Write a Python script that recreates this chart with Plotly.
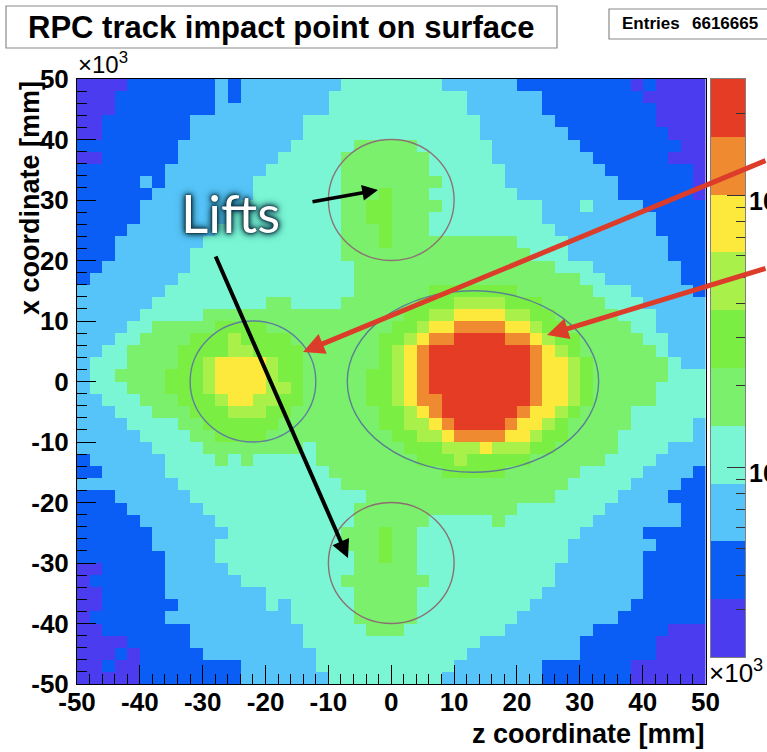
import math
import plotly.graph_objects as go

W, H = 767, 752

# 2D histogram binning (units of 10^3 mm), 50 x 50 bins
BIN_EDGES = list(range(-50, 51, 2))

# colour-level boundaries of the log-z palette (entries per bin)
LEVEL_COUNTS = [200, 326, 533, 869, 1419, 2315, 3778, 6166, 10062, 16421, 26792]
LEVEL_COLORS = ["#4b3cf0", "#0a5ef5", "#56c4f8", "#7af6d4", "#7bf06d",
                "#7bee44", "#a9f04a", "#fde83c", "#ef8a31", "#e53c26"]

# contour level of every bin, one row per x bin from +50 (top) to -50 (bottom);
# each token is "level:number_of_consecutive_z_bins", z running from -50 to +50
ROWS = [
    "0:4 1:7 2:1 1:1 2:8 3:8 2:6 1:9 0:1 1:1 0:4",
    "0:3 1:8 2:1 1:1 2:7 3:11 2:6 1:8 0:5",
    "0:3 1:8 2:9 3:11 2:6 1:9 0:4",
    "0:2 1:7 2:9 3:14 2:6 1:8 0:4",
    "0:2 1:7 2:9 3:14 2:7 1:8 0:3",
    "1:8 2:9 3:5 4:5 3:6 2:7 1:8 0:2",
    "0:2 1:6 2:8 3:5 4:7 3:5 2:8 1:6 0:3",
    "1:7 2:8 3:6 4:7 3:6 2:8 1:7 0:1",
    "1:5 2:1 1:1 2:7 3:7 4:8 3:5 2:9 1:6 0:1",
    "1:6 2:8 3:7 4:3 5:1 4:3 3:7 2:8 1:6 0:1",
    "1:5 2:8 3:8 4:2 5:2 4:4 3:8 2:3 3:1 2:4 1:5",
    "1:5 2:7 3:9 4:2 5:2 4:3 3:9 2:9 1:4",
    "1:4 2:7 3:10 4:3 5:1 4:3 3:10 2:8 1:4",
    "1:3 2:7 3:11 4:3 5:1 4:10 3:4 2:8 1:3",
    "1:3 2:6 3:12 4:15 3:3 2:8 1:3",
    "1:2 2:7 3:13 4:16 3:3 2:7 1:2",
    "1:1 2:7 3:14 4:18 3:2 2:6 1:2",
    "2:7 3:15 4:6 5:7 4:6 3:3 2:5 1:1",
    "2:6 3:9 4:2 3:4 4:6 5:3 6:4 5:3 4:5 3:3 2:5",
    "2:5 3:5 4:16 5:2 6:2 7:4 6:2 5:2 4:5 3:3 2:4",
    "2:4 3:2 4:5 5:4 4:10 5:2 6:1 7:2 8:4 7:2 6:1 5:2 4:5 3:2 2:4",
    "2:3 3:2 4:4 5:3 6:1 5:4 4:7 5:2 6:1 7:1 8:2 9:4 8:2 7:1 6:1 5:2 4:5 3:2 2:3",
    "2:2 3:2 4:4 5:4 6:2 5:4 4:6 5:1 6:1 7:1 8:1 9:8 8:1 7:1 6:1 5:1 4:6 3:1 2:3",
    "2:1 3:3 4:4 5:2 6:1 7:4 6:1 5:2 4:6 5:1 6:1 7:1 8:1 9:8 8:1 7:2 6:1 5:1 4:6 3:1 2:2",
    "2:1 3:2 4:4 5:3 6:1 7:4 6:1 5:2 4:5 5:2 6:1 7:1 8:1 9:8 8:1 7:2 6:1 5:1 4:6 3:3",
    "2:1 3:3 4:3 5:3 6:1 7:4 6:2 5:1 4:5 5:2 6:1 7:1 8:1 9:8 8:1 7:2 6:1 5:1 4:5 3:4",
    "2:2 3:3 4:3 5:3 6:1 7:2 6:2 5:2 4:5 5:2 6:1 7:1 8:2 9:7 8:1 7:2 6:1 5:1 4:5 3:4",
    "2:3 3:3 4:3 5:3 6:3 5:2 4:7 5:2 6:1 7:1 8:1 9:6 8:1 7:2 6:1 5:1 4:4 3:6",
    "2:4 3:4 4:2 5:6 4:8 5:2 6:2 7:1 8:1 9:4 8:1 7:2 6:1 5:1 4:5 3:5 2:1",
    "2:5 3:4 4:2 5:4 4:10 5:2 6:2 7:1 8:4 7:2 6:1 5:2 4:4 3:6 2:1",
    "2:6 3:4 4:8 3:1 4:7 5:3 6:3 7:1 6:3 5:2 4:5 3:4 2:3",
    "1:1 2:6 3:4 4:1 3:1 4:1 3:5 4:8 5:3 6:1 5:5 4:6 3:4 2:4",
    "1:2 2:5 3:13 4:9 5:5 4:6 3:5 2:4 1:1",
    "2:8 3:13 4:18 3:5 2:4 1:2",
    "1:3 2:6 3:14 4:15 3:5 2:4 1:3",
    "1:4 2:6 3:12 4:13 3:7 2:6 1:2",
    "1:5 2:6 3:11 4:6 3:5 4:1 3:7 2:7 1:2",
    "1:6 2:6 3:9 4:3 5:1 4:2 3:13 2:5 1:5",
    "1:6 2:5 3:10 4:3 5:1 4:2 3:12 2:7 1:4",
    "1:7 2:4 3:11 4:2 5:1 4:2 3:12 2:6 1:5",
    "0:2 1:5 2:5 3:10 4:5 3:11 2:7 1:5",
    "0:1 1:6 2:6 3:8 4:7 3:10 2:7 1:5",
    "0:2 1:5 2:8 3:7 4:5 3:10 2:8 1:5",
    "0:2 1:6 2:7 3:1 2:1 3:5 4:5 3:9 2:8 1:6",
    "0:1 1:6 2:10 3:5 4:5 3:8 2:8 1:7",
    "0:2 1:7 2:9 3:5 4:3 3:8 2:7 1:6 0:3",
    "0:4 1:5 2:9 3:14 2:8 1:6 0:4",
    "0:3 1:1 0:1 1:5 2:9 3:12 2:9 1:6 0:4",
    "0:2 1:1 0:2 1:8 2:6 3:11 2:7 1:7 0:6",
    "0:5 1:8 2:7 3:9 2:8 1:7 0:6",
]

# highlighted regions: (centre z, centre x, half-width z, half-height x, line colour)
REGIONS = [
    (0.0, 30.0, 10.0, 10.0, "#8c7474"),
    (0.0, -30.0, 10.0, 10.0, "#8c7070"),
    (-22.0, 0.0, 10.0, 10.0, "#5f7f9e"),
    (13.0, 0.0, 20.0, 15.0, "#5b8092"),
]

# labelled decades on the colour scale
Z_DECADES = [3, 4]

TITLE = "RPC track impact point on surface"
ENTRIES = "6616665"


def expand(row):
    cells = []
    for tok in row.split():
        lvl, n = tok.split(":")
        cells += [int(lvl)] * int(n)
    assert len(cells) == 50, (row, len(cells))
    return cells


grid = [expand(r) for r in ROWS][::-1]   # bottom row first for the y axis

n_lv = len(LEVEL_COLORS)
colorscale = []
for k, c in enumerate(LEVEL_COLORS):
    colorscale.append([k / n_lv, c])
    colorscale.append([(k + 1) / n_lv, c])

log_edges = [math.log10(v) for v in LEVEL_COUNTS]


def fx(px):
    return px / W


def fy(py):
    return 1 - py / H


# plot frame in page pixels
L, R, T, B = 77, 705.5, 79, 684
CB_L, CB_R, CB_T, CB_B = 710.5, 745, 79, 657

FONT = "Liberation Sans"

fig = go.Figure()
fig.add_trace(go.Heatmap(
    x=BIN_EDGES, y=BIN_EDGES, z=grid,
    colorscale=colorscale, zmin=-0.5, zmax=n_lv - 0.5,
    showscale=False, hoverinfo="skip",
))
fig.add_trace(go.Heatmap(
    x=[0, 1], y=log_edges, z=[[k] for k in range(n_lv)],
    colorscale=colorscale, zmin=-0.5, zmax=n_lv - 0.5,
    showscale=False, hoverinfo="skip", xaxis="x2", yaxis="y2",
))

tickfont = dict(family=FONT, size=26, color="black", weight="bold")
major = list(range(-50, 51, 10))

minor_log = [math.log10(m * 10 ** e) for e in (2, 3, 4) for m in range(2, 10)
             if log_edges[0] <= math.log10(m * 10 ** e) <= log_edges[-1]]

fig.update_layout(
    width=W, height=H,
    margin=dict(l=0, r=0, t=0, b=0),
    paper_bgcolor="white", plot_bgcolor="white",
    showlegend=False,
    xaxis=dict(
        domain=[fx(L), fx(R)], range=[-50, 50], anchor="y",
        tickmode="array", tickvals=major, ticktext=[str(v) for v in major],
        ticks="inside", ticklen=19, tickcolor="black", tickwidth=1,
        minor=dict(dtick=2, tick0=-50, ticks="inside", ticklen=10, tickcolor="black"),
        showline=True, mirror=True, linecolor="black", linewidth=1,
        showgrid=False, zeroline=False, tickfont=tickfont,
        ticklabelstandoff=-5, automargin=False,
    ),
    yaxis=dict(
        domain=[fy(B), fy(T)], range=[-50, 50], anchor="x",
        tickmode="array", tickvals=major, ticktext=[str(v) for v in major],
        ticks="inside", ticklen=19, tickcolor="black", tickwidth=1,
        minor=dict(dtick=2, tick0=-50, ticks="inside", ticklen=10, tickcolor="black"),
        showline=True, mirror=True, linecolor="black", linewidth=1,
        showgrid=False, zeroline=False, tickfont=tickfont,
        ticklabelstandoff=2, automargin=False,
    ),
    xaxis2=dict(
        domain=[fx(CB_L), fx(CB_R)], range=[0, 1], anchor="y2",
        showticklabels=False, ticks="", showgrid=False, zeroline=False,
        showline=True, mirror=True, linecolor="#808080", linewidth=1,
    ),
    yaxis2=dict(
        domain=[fy(CB_B), fy(CB_T)], range=[log_edges[0], log_edges[-1]],
        anchor="x2", side="right",
        tickmode="array", tickvals=Z_DECADES, showticklabels=False,
        ticks="inside", ticklen=18, tickcolor="#333333", tickwidth=1,
        minor=dict(tickmode="array", tickvals=minor_log, ticks="inside",
                   ticklen=9, tickcolor="#333333"),
        showline=True, mirror=True, linecolor="#808080", linewidth=1,
        showgrid=False, zeroline=False, automargin=False,
    ),
)

shapes = []
# title and statistics boxes
shapes.append(dict(type="rect", xref="paper", yref="paper",
                   x0=fx(6), x1=fx(557), y0=fy(48), y1=fy(6),
                   line=dict(color="#8a8a8a", width=1.2), fillcolor="white", layer="above"))
shapes.append(dict(type="rect", xref="paper", yref="paper",
                   x0=fx(609), x1=fx(790), y0=fy(39), y1=fy(9),
                   line=dict(color="#8a8a8a", width=1.2), fillcolor="white", layer="above"))
# highlighted regions
for cz, cx, hz, hx, col in REGIONS:
    shapes.append(dict(type="circle", xref="x", yref="y",
                       x0=cz - hz, x1=cz + hz, y0=cx - hx, y1=cx + hx,
                       line=dict(color=col, width=1.4), layer="above"))

annotations = [
    dict(text=TITLE, x=fx(281), y=fy(27), xref="paper", yref="paper",
         xanchor="center", yanchor="middle", showarrow=False,
         font=dict(family=FONT, size=31, color="black", weight="bold")),
    dict(text="Entries", x=fx(620), y=fy(24), xref="paper", yref="paper",
         xanchor="left", yanchor="middle", showarrow=False,
         font=dict(family=FONT, size=17, color="black", weight="bold")),
    dict(text=ENTRIES, x=fx(760), y=fy(24), xref="paper", yref="paper",
         xanchor="right", yanchor="middle", showarrow=False,
         font=dict(family=FONT, size=17, color="black", weight="bold")),
    dict(text="×10<sup>3</sup>", x=fx(76), y=fy(80), xref="paper", yref="paper",
         xanchor="left", yanchor="bottom", showarrow=False,
         font=dict(family=FONT, size=24, color="black")),
    dict(text="×10<sup>3</sup>", x=fx(707), y=fy(690), xref="paper", yref="paper",
         xanchor="left", yanchor="bottom", showarrow=False,
         font=dict(family=FONT, size=26, color="black")),
    dict(text="x coordinate [mm]", x=fx(30), y=fy(79), xref="paper", yref="paper",
         xanchor="center", yanchor="top", textangle=-90, showarrow=False,
         font=dict(family=FONT, size=27, color="black", weight="bold")),
    dict(text="z coordinate [mm]", x=fx(707), y=fy(734), xref="paper", yref="paper",
         xanchor="right", yanchor="middle", showarrow=False,
         font=dict(family=FONT, size=27, color="black", weight="bold")),
    dict(text="Lifts", x=fx(230), y=fy(212), xref="paper", yref="paper",
         xanchor="center", yanchor="middle", showarrow=False,
         font=dict(family="Lato", size=53, color="white",
                   shadow="0px 0px 2px #06222c, 0px 0px 4px #0b3444, "
                          "0px 0px 6px #0b3444, 0px 0px 10px #124a5a")),
]

# decade labels of the colour scale, to the right of the bar
for d in Z_DECADES:
    annotations.append(dict(
        text=f"10<sup>{d}</sup>", x=fx(747), y=d, xref="paper", yref="y2",
        xanchor="left", yanchor="middle", yshift=-4, showarrow=False,
        font=dict(family=FONT, size=25, color="black", weight="bold")))

# arrows: (tail px, head px, colour, width, head size)
ARROWS = [
    ((311, 202), (378, 190), "black", 3.5, 0.9),
    ((215, 255), (348, 558), "black", 4.0, 0.9),
    ((767, 160), (303, 352), "#dc3c2a", 5.0, 0.85),
    ((767, 268), (547, 335), "#dc3c2a", 5.0, 0.85),
]
for (tx, ty), (hx, hy), col, w, sz in ARROWS:
    annotations.append(dict(
        text="", x=fx(hx), y=fy(hy), xref="paper", yref="paper",
        ax=tx - hx, ay=ty - hy, axref="pixel", ayref="pixel",
        showarrow=True, arrowhead=2, arrowsize=sz, arrowwidth=w,
        arrowcolor=col, standoff=0, startstandoff=0,
    ))

fig.update_layout(shapes=shapes, annotations=annotations)
fig.write_html("out.html")
